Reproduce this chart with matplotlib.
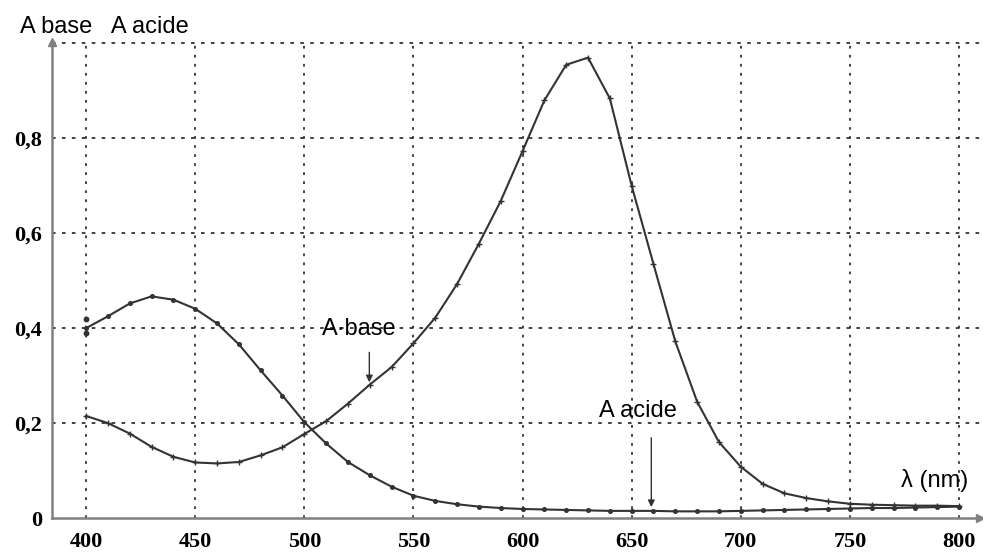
import matplotlib.pyplot as plt

# wavelengths (nm) and absorbances
wl = list(range(400, 801, 10))
a_acide = [0.40, 0.425, 0.452, 0.467, 0.46, 0.441, 0.41, 0.366, 0.311, 0.258,
           0.202, 0.157, 0.118, 0.090, 0.066, 0.047, 0.036, 0.029, 0.024, 0.021,
           0.019, 0.018, 0.017, 0.016, 0.015, 0.015, 0.015, 0.014, 0.014, 0.014,
           0.015, 0.016, 0.017, 0.018, 0.019, 0.020, 0.021, 0.021, 0.022, 0.023,
           0.024]
a_base = [0.215, 0.20, 0.178, 0.150, 0.129, 0.117, 0.115, 0.118, 0.132, 0.149,
          0.177, 0.204, 0.241, 0.281, 0.318, 0.368, 0.422, 0.493, 0.578, 0.668,
          0.773, 0.880, 0.955, 0.970, 0.884, 0.70, 0.535, 0.372, 0.245, 0.160,
          0.108, 0.072, 0.052, 0.042, 0.035, 0.030, 0.028, 0.027, 0.026, 0.026,
          0.025]
# two extra readings at 400 nm on the acid curve
extra_x = [400, 400]
extra_y = [0.42, 0.39]

xticks = [400, 450, 500, 550, 600, 650, 700, 750, 800]
yticks = [0, 0.2, 0.4, 0.6, 0.8]
ytick_labels = ['0', '0,2', '0,4', '0,6', '0,8']

fig = plt.figure(figsize=(9.83, 5.52), dpi=100)
ax = fig.add_axes([52 / 983, 1 - 518 / 552, 928 / 983, 476 / 552])

ax.set_xlim(384.4, 809.6)
ax.set_ylim(0, 1.003)

# dotted grid
for x in xticks:
    ax.plot([x, x], [0, 1.0], color='#333333', lw=1.3, ls=(0, (1.5, 3.5)), zorder=1)
for y in [0.2, 0.4, 0.6, 0.8, 1.0]:
    ax.plot([384.4, 809.6], [y, y], color='#333333', lw=1.3, ls=(0, (2, 3.5)), zorder=1)

ax.plot(wl, a_acide, color='#333333', lw=1.5, marker='o', ms=2.6, zorder=3)
ax.plot(extra_x, extra_y, ls='none', color='#333333', marker='o', ms=3.2, zorder=3)
ax.plot(wl, a_base, color='#333333', lw=1.5, marker='+', ms=4, mew=1, zorder=3)

for s in ['top', 'right']:
    ax.spines[s].set_visible(False)
for s in ['left', 'bottom']:
    ax.spines[s].set_color('#808080')
    ax.spines[s].set_linewidth(1.8)
ax.plot(0, 1, marker='^', ms=6, color='#808080', transform=ax.transAxes, clip_on=False)
ax.plot(1, 0, marker='>', ms=6, color='#808080', transform=ax.transAxes, clip_on=False)

ax.set_xticks(xticks)
ax.set_xticklabels([str(x) for x in xticks])
ax.set_yticks(yticks)
ax.set_yticklabels(ytick_labels)
ax.tick_params(length=0, labelsize=16)
ax.tick_params(axis='x', pad=10)
ax.tick_params(axis='y', pad=7)
for lab in ax.get_xticklabels() + ax.get_yticklabels():
    lab.set_fontfamily('Liberation Serif')
    lab.set_fontweight('bold')

sans = 'Liberation Sans'
ax.annotate('', xy=(529.8, 0.28), xytext=(529.8, 0.355),
            arrowprops=dict(arrowstyle='-|>', color='#333333', lw=1.0, mutation_scale=10))
ax.text(525, 0.398, 'A·base', ha='center', va='center', fontsize=17, family=sans)
ax.annotate('', xy=(659, 0.017), xytext=(659, 0.175),
            arrowprops=dict(arrowstyle='-|>', color='#333333', lw=1.0, mutation_scale=10))
ax.text(653, 0.225, 'A acide', ha='center', va='center', fontsize=17, family=sans)
ax.text(789, 0.08, 'λ (nm)', ha='center', va='center', fontsize=17, family=sans)

fig.text(20 / 983, 1 - 27 / 552, 'A base   A acide', ha='left', va='center',
         fontsize=17, family=sans)

fig.savefig('out.png', dpi=100)
